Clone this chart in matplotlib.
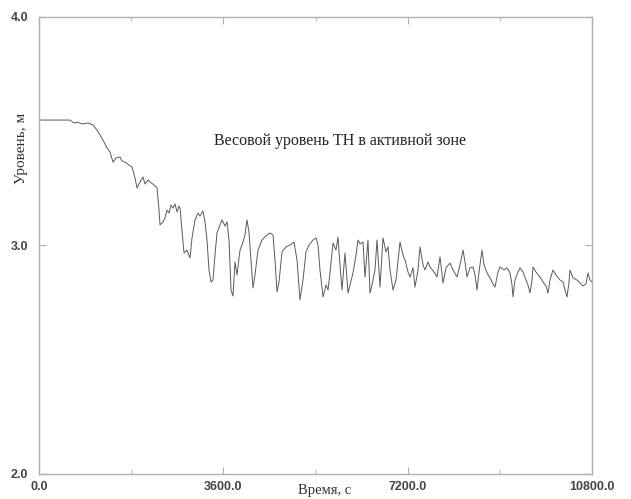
import matplotlib
matplotlib.use("Agg")
import matplotlib.pyplot as plt
from matplotlib.ticker import MultipleLocator

time_s = [0, 605, 684, 742, 840, 957, 1055, 1133, 1191, 1269, 1328, 1387, 1445, 1504, 1582, 1621,
          1680, 1758, 1816, 1875, 1914, 1973, 2031, 2070, 2129, 2168, 2246, 2305, 2344, 2363, 2422,
          2461, 2500, 2539, 2578, 2617, 2656, 2695, 2734, 2754, 2793, 2832, 2890, 2949, 2988, 3047,
          3105, 3144, 3203, 3242, 3281, 3320, 3359, 3398, 3437, 3476, 3535, 3574, 3633, 3672, 3711,
          3750, 3789, 3828, 3867, 3926, 3984, 4023, 4062, 4101, 4140, 4179, 4218, 4277, 4355, 4433,
          4511, 4570, 4609, 4648, 4687, 4746, 4824, 4902, 4980, 5039, 5097, 5156, 5214, 5273, 5351,
          5410, 5449, 5488, 5547, 5605, 5644, 5683, 5742, 5800, 5839, 5878, 5917, 5976, 6035, 6074,
          6132, 6191, 6230, 6269, 6328, 6367, 6425, 6464, 6503, 6562, 6601, 6660, 6718, 6777, 6816,
          6855, 6914, 6972, 7050, 7109, 7148, 7207, 7246, 7304, 7343, 7402, 7441, 7500, 7539, 7597,
          7636, 7714, 7773, 7832, 7890, 7949, 8027, 8086, 8164, 8222, 8281, 8320, 8359, 8417, 8476,
          8515, 8554, 8593, 8652, 8691, 8750, 8808, 8867, 8906, 8964, 9003, 9082, 9140, 9199, 9238,
          9257, 9296, 9355, 9394, 9452, 9511, 9550, 9589, 9628, 9648, 9706, 9784, 9843, 9902, 9941,
          9980, 10038, 10097, 10175, 10234, 10273, 10312, 10351, 10370, 10429, 10507, 10566, 10624,
          10683, 10722, 10761, 10800]

level_m = [3.549, 3.549, 3.536, 3.540, 3.532, 3.536, 3.527, 3.505, 3.484, 3.453, 3.427, 3.409, 3.365,
           3.383, 3.387, 3.370, 3.365, 3.352, 3.344, 3.295, 3.252, 3.278, 3.300, 3.269, 3.287, 3.278,
           3.265, 3.252, 3.155, 3.090, 3.104, 3.120, 3.155, 3.142, 3.177, 3.164, 3.182, 3.147, 3.173,
           3.164, 3.068, 2.967, 2.980, 2.945, 3.033, 3.112, 3.142, 3.129, 3.151, 3.103, 3.024, 2.893,
           2.840, 2.849, 2.958, 3.055, 3.090, 3.112, 3.085, 3.103, 3.024, 2.805, 2.779, 2.928, 2.871,
           2.980, 3.015, 3.046, 3.112, 3.059, 2.937, 2.814, 2.871, 2.980, 3.024, 3.042, 3.055, 3.046,
           2.937, 2.797, 2.840, 2.972, 2.994, 3.002, 3.015, 2.937, 2.762, 2.849, 2.972, 3.002, 3.024,
           3.033, 3.002, 2.893, 2.775, 2.827, 2.805, 2.880, 3.011, 2.980, 3.037, 2.915, 2.805, 2.967,
           2.792, 2.827, 2.880, 2.958, 3.024, 3.007, 3.015, 2.862, 3.024, 2.792, 2.827, 2.893, 3.024,
           2.818, 3.033, 2.972, 2.994, 2.893, 2.805, 2.849, 3.015, 2.958, 2.937, 2.884, 2.862, 2.902,
           2.818, 2.893, 2.994, 2.915, 2.893, 2.928, 2.906, 2.884, 2.862, 2.950, 2.836, 2.902, 2.923,
           2.893, 2.862, 2.915, 2.980, 2.928, 2.862, 2.902, 2.906, 2.871, 2.805, 2.884, 2.980, 2.915,
           2.880, 2.858, 2.832, 2.818, 2.884, 2.906, 2.893, 2.902, 2.880, 2.827, 2.775, 2.849, 2.884,
           2.902, 2.884, 2.849, 2.827, 2.792, 2.849, 2.906, 2.884, 2.862, 2.840, 2.823, 2.792, 2.849,
           2.893, 2.871, 2.849, 2.840, 2.805, 2.775, 2.840, 2.893, 2.858, 2.849, 2.836, 2.823, 2.832,
           2.880, 2.849, 2.840]

x_ticks = [0.0, 3600.0, 7200.0, 10800.0]
y_ticks = [2.0, 3.0, 4.0]
title_text = "Весовой уровень ТН в активной зоне"
x_label = "Время, с"
y_label = "Уровень, м"

fig = plt.figure(figsize=(6.31, 4.99), dpi=100)
ax = fig.add_axes([39/631, 1 - 474/499, 553/631, 457/499])

ax.plot(time_s, level_m, color="#5a5a5a", lw=0.7)

ax.set_xlim(0, 10800)
ax.set_ylim(2.0, 4.0)
ax.set_xticks(x_ticks)
ax.set_xticklabels([f"{v:.1f}" for v in x_ticks])
ax.set_yticks(y_ticks)
ax.set_yticklabels([f"{v:.1f}" for v in y_ticks])
ax.xaxis.set_minor_locator(MultipleLocator(1800))

for s in ax.spines.values():
    s.set_color("#b0b0b0")
    s.set_linewidth(1.0)

ax.tick_params(which="both", direction="in", top=True, right=True, color="#b0b0b0",
               labelcolor="#454545", labelsize=9)
ax.tick_params(which="major", length=5)
ax.tick_params(which="minor", length=3)
ax.tick_params(axis="y", pad=8)
ax.tick_params(axis="x", pad=5)
for lab in ax.get_xticklabels() + ax.get_yticklabels():
    lab.set_family(["Liberation Sans", "DejaVu Sans"])
    lab.set_fontweight("bold")

ax.set_xlabel(x_label, family="Liberation Serif", fontsize=10.5, color="#333333", va="top")
ax.xaxis.set_label_coords(0.517, -0.021)
ax.set_ylabel(y_label, family="Liberation Serif", fontsize=11, color="#333333", va="center")
ax.yaxis.set_label_coords(-0.031, 0.713)

ax.text(0.544, 0.729, title_text, transform=ax.transAxes, ha="center", va="center",
        family="Liberation Serif", fontsize=11.5, color="#222222")

fig.savefig("out.png", dpi=100)
